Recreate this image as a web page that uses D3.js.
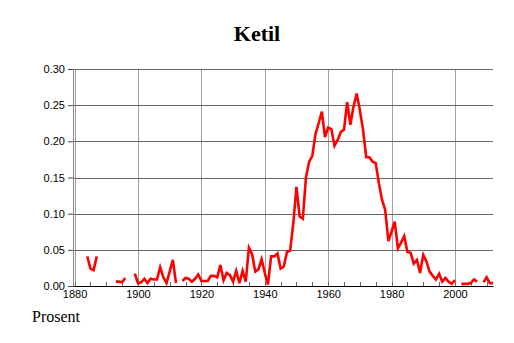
<!DOCTYPE html>
<html>
<head>
<meta charset="utf-8">
<script src="https://cdn.jsdelivr.net/npm/d3@7"></script>
<style>
  body { margin: 0; background: #fff; }
</style>
</head>
<body>
<svg width="514" height="343"></svg>
<script>
const years = d3.range(1884, 2013);
const values = [
  0.041, 0.024, 0.022, 0.041, null, null, null, null, null, 0.006,   // 1884-1893
  0.006, 0.005, 0.011, null, null, 0.017, 0.004, 0.005, 0.010, 0.004, // 1894-1903
  0.010, 0.009, 0.009, 0.026, 0.012, 0.004, 0.020, 0.036, 0.004, null, // 1904-1913
  0.007, 0.011, 0.010, 0.006, 0.010, 0.016, 0.007, 0.007, 0.007, 0.014, // 1914-1923
  0.014, 0.012, 0.029, 0.008, 0.018, 0.015, 0.006, 0.021, 0.004, 0.021, // 1924-1933
  0.006, 0.053, 0.044, 0.020, 0.023, 0.037, 0.018, 0.002, 0.041, 0.041, // 1934-1943
  0.045, 0.024, 0.027, 0.047, 0.049, 0.087, 0.137, 0.096, 0.093, 0.150, // 1944-1953
  0.172, 0.180, 0.210, 0.225, 0.241, 0.206, 0.219, 0.217, 0.194, 0.202, // 1954-1963
  0.213, 0.216, 0.254, 0.223, 0.248, 0.266, 0.243, 0.216, 0.178, 0.178, // 1964-1973
  0.172, 0.170, 0.142, 0.119, 0.105, 0.062, 0.075, 0.089, 0.052, 0.060, // 1974-1983
  0.069, 0.047, 0.046, 0.031, 0.036, 0.018, 0.043, 0.034, 0.020, 0.014, // 1984-1993
  0.009, 0.017, 0.006, 0.011, 0.006, 0.003, 0.008, null, 0.003, 0.003, // 1994-2003
  0.003, 0.004, 0.009, 0.006, null, 0.005, 0.012, 0.004, 0.004         // 2004-2012
];
const yTicks = [0, 0.05, 0.10, 0.15, 0.20, 0.25, 0.30];
const xTicks = [1880, 1900, 1920, 1940, 1960, 1980, 2000];
const xMinor = d3.range(1880, 2013, 5);

const svg = d3.select("svg");
const width = +svg.attr("width");
const height = +svg.attr("height");

const data = years.map((y, i) => ({ year: y, v: values[i] }));

const margin = { top: 69, right: 21, bottom: 57, left: 73 };
const innerWidth = width - margin.left - margin.right;
const innerHeight = height - margin.top - margin.bottom;

const xScale = d3.scaleLinear()
    .domain([1879.5, 2012])
    .range([0, innerWidth]);

const yScale = d3.scaleLinear()
    .domain([0, 0.3])
    .range([innerHeight, 0]);

const g = svg.append('g')
    .attr('transform', `translate(${margin.left}, ${margin.top})`);

// vertical grid
g.selectAll('.vgrid').data(xTicks)
    .enter().append('line')
    .attr('x1', d => Math.round(xScale(d)) + 0.5)
    .attr('x2', d => Math.round(xScale(d)) + 0.5)
    .attr('y1', 0)
    .attr('y2', innerHeight)
    .attr('stroke', '#a0a0a0');

// horizontal grid
g.selectAll('.hgrid').data(yTicks.slice(1))
    .enter().append('line')
    .attr('x1', 0)
    .attr('x2', innerWidth)
    .attr('y1', d => Math.round(yScale(d)) + 0.5)
    .attr('y2', d => Math.round(yScale(d)) + 0.5)
    .attr('stroke', '#666');

// minor ticks on bottom
g.selectAll('.minor').data(xMinor)
    .enter().append('line')
    .attr('x1', d => Math.round(xScale(d)) + 0.5)
    .attr('x2', d => Math.round(xScale(d)) + 0.5)
    .attr('y1', innerHeight)
    .attr('y2', innerHeight - 4)
    .attr('stroke', '#666');

const yAxisG = g.append('g')
    .call(d3.axisLeft(yScale).tickValues(yTicks).tickFormat(d3.format('.2f')).tickSize(5).tickPadding(3))
    .attr('font-family', '"Liberation Sans", Arial, sans-serif')
    .attr('font-size', 11);
yAxisG.selectAll('.domain').attr('stroke', '#888');
yAxisG.selectAll('.tick line').attr('stroke', '#444');
yAxisG.selectAll('.tick text').attr('fill', '#000');

const xAxisG = g.append('g')
    .attr('transform', `translate(0, ${innerHeight})`)
    .call(d3.axisBottom(xScale).tickValues(xTicks).tickFormat(d3.format('d')).tickSize(0).tickPadding(4))
    .attr('font-family', '"Liberation Sans", Arial, sans-serif')
    .attr('font-size', 11);
xAxisG.select('.domain').attr('stroke', '#000');
xAxisG.selectAll('.tick text').attr('fill', '#000');

const line = d3.line()
    .defined(d => d.v !== null)
    .x(d => xScale(d.year))
    .y(d => yScale(d.v));

g.append('path')
    .datum(data)
    .attr('fill', 'none')
    .attr('stroke', '#ff0000')
    .attr('stroke-width', 2.6)
    .attr('d', line);

svg.append('text')
    .attr('x', 257)
    .attr('y', 41)
    .attr('text-anchor', 'middle')
    .attr('font-family', '"Liberation Serif", "Times New Roman", serif')
    .attr('font-weight', 'bold')
    .attr('font-size', 22)
    .text('Ketil');

svg.append('text')
    .attr('x', 32)
    .attr('y', 322)
    .attr('font-family', '"Liberation Serif", "Times New Roman", serif')
    .attr('font-size', 16)
    .text('Prosent');
</script>
</body>
</html>
